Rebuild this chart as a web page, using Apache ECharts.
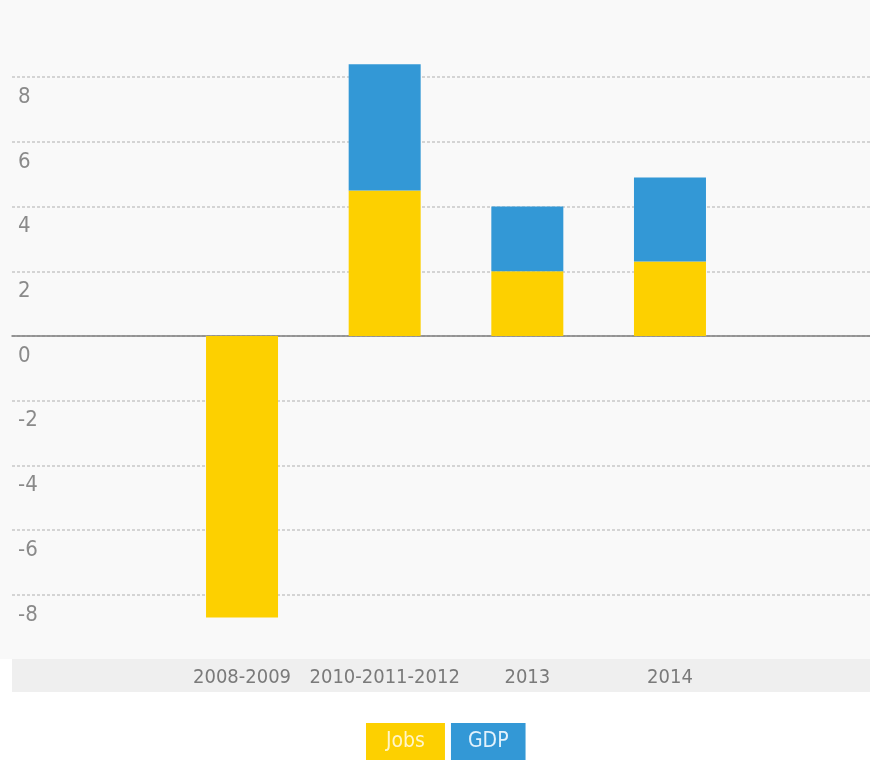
<!DOCTYPE html>
<html>
<head>
<meta charset="utf-8">
<script src="https://cdn.jsdelivr.net/npm/echarts@6/dist/echarts.min.js"></script>
<style>
  html, body { margin: 0; padding: 0; background: #fff; }
  #chart { width: 870px; height: 779px; }
</style>
</head>
<body>
<div id="chart"></div>
<script>
var categories = ['2008-2009', '2010-2011-2012', '2013', '2014'];
var jobs = [-8.7, 4.5, 2.0, 2.3];
var gdp = [null, 3.9, 2.0, 2.6];
var yTicks = [-8, -6, -4, -2, 0, 2, 4, 6, 8];

var font = '"DejaVu Sans Condensed", "Liberation Sans Narrow", sans-serif';
var yellow = '#fdd000';
var blue = '#3398d6';

var chart = echarts.init(document.getElementById('chart'), null, {renderer: 'canvas'});

var option = {
    backgroundColor: '#fff',
    animation: false,
    grid: [
        // full width grid: split lines, y labels, zero line
        {left: 12, right: 0, top: 12.5, height: 647},
        // bars
        {left: 170.7, right: 128.7, top: 12.5, height: 647},
        // grey band for the category labels
        {left: 12, right: 0, top: 659, height: 33, show: true, backgroundColor: '#efefef', borderWidth: 0},
        // pale background behind the plot
        {left: 0, right: 0, top: 0, height: 659, show: true, backgroundColor: '#f9f9f9', borderWidth: 0}
    ],
    xAxis: [
        {
            gridIndex: 0, type: 'category', data: [''],
            axisLine: {show: true, onZero: true, lineStyle: {color: '#7d7d7d', width: 1.5}},
            axisTick: {show: false}, axisLabel: {show: false}, splitLine: {show: false}
        },
        {
            gridIndex: 1, type: 'category', data: categories,
            axisLine: {show: false}, axisTick: {show: false},
            axisLabel: {color: '#7a7a7a', fontFamily: font, fontSize: 20, margin: 8, interval: 0, hideOverlap: false}
        },
        {gridIndex: 2, type: 'category', data: [''], show: false},
        {gridIndex: 3, type: 'category', data: [''], show: false}
    ],
    yAxis: [
        {
            gridIndex: 0, type: 'value', min: -10, max: 10, interval: 2,
            axisLine: {show: false}, axisTick: {show: false},
            splitLine: {showMinLine: false, showMaxLine: false, lineStyle: {color: '#c8c8c8', type: [3, 2], width: 1.5}},
            axisLabel: {
                inside: true, color: '#8a8a8a', fontFamily: font, fontSize: 22,
                verticalAlign: 'top', margin: 6, padding: [9, 0, 0, 0],
                formatter: function (v) { return yTicks.indexOf(v) >= 0 ? String(v) : ''; }
            }
        },
        {gridIndex: 1, type: 'value', min: -10, max: 10, interval: 2, show: false, splitLine: {show: false}},
        {gridIndex: 2, type: 'value', show: false, splitLine: {show: false}},
        {gridIndex: 3, type: 'value', show: false, splitLine: {show: false}}
    ],
    legend: {
        left: 356, top: 718,
        itemWidth: 0, itemHeight: 0, itemGap: 1,
        selectedMode: false,
        textStyle: {fontFamily: font, fontSize: 21, lineHeight: 21},
        data: [
            {name: 'Jobs', icon: 'none', textStyle: {color: '#fff5c8', backgroundColor: yellow, padding: [8, 20, 8, 20]}},
            {name: 'GDP', icon: 'none', textStyle: {color: '#e2f2fc', backgroundColor: blue, padding: [8, 17, 8, 17]}}
        ]
    },
    series: [
        {
            name: 'Jobs', type: 'bar', stack: 'total', xAxisIndex: 1, yAxisIndex: 1,
            barWidth: 72, itemStyle: {color: yellow}, data: jobs
        },
        {
            name: 'GDP', type: 'bar', stack: 'total', xAxisIndex: 1, yAxisIndex: 1,
            barWidth: 72, itemStyle: {color: blue}, data: gdp
        }
    ]
};

chart.setOption(option);
</script>
</body>
</html>
